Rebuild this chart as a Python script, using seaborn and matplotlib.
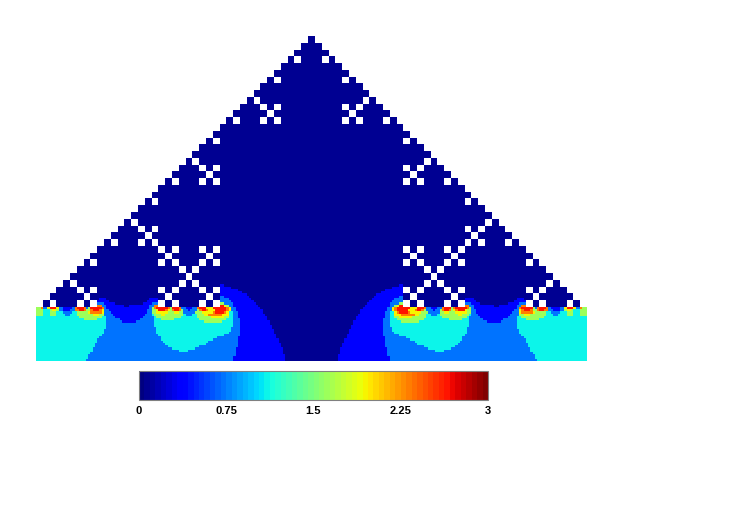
import numpy as np
import matplotlib
matplotlib.use("Agg")
import matplotlib.pyplot as plt
import seaborn as sns

# grid size in coarse cells, each coarse cell is split in 3x3 fine cells
n_cols = 81
n_rows = 48
apex_rows = 40

# value of each band seen in the picture
levels = {"n": 0.05, "b": 0.37, "l": 0.72, "c": 1.1, "g": 1.62, "y": 1.95, "o": 2.3, "r": 2.65}

# white cells of the left half (column, row), right half is the mirror
hole_cols = [38, 35, 32, 29, 26, 23, 20, 17, 14, 11, 8, 5, 2,
             33, 35, 34, 33, 35,
             24, 26, 25, 24, 26,
             15, 17, 16, 15, 17,
             6, 8, 7, 6, 8,
             18, 20, 19, 18, 20,
             24, 26, 25, 24, 26,
             21, 23, 22, 21, 23,
             18, 20, 19, 18, 20,
             24, 26, 25, 24, 26]
hole_rows = [3, 6, 9, 12, 15, 18, 21, 24, 27, 30, 33, 36, 39,
             10, 10, 11, 12, 12,
             19, 19, 20, 21, 21,
             28, 28, 29, 30, 30,
             37, 37, 38, 39, 39,
             31, 31, 32, 33, 33,
             31, 31, 32, 33, 33,
             34, 34, 35, 36, 36,
             37, 37, 38, 39, 39,
             37, 37, 38, 39, 39]

# bands of the left half, fine rows 110 to 143: letter + end column
first_band_row = 110
band_rows = [
    "n81 b83 n122",
    "n81 b86 n122",
    "n81 b89 n122",
    "n81 b91 n122",
    "n81 b93 n122",
    "n81 l83 b94 n122",
    "n28 b31 n50 b54 n81 l85 b95 n122",
    "n27 b32 n49 b54 n81 l86 b96 n122",
    "n27 l30 b35 n47 b51 l54 n81 g83 l87 b97 n122",
    "n27 o29 l31 b39 n41 b50 l52 o54 n81 r83 y84 g85 l87 b98 n122",
    "g2 o3 l5 y6 r9 y10 l12 b16 l17 o18 r21 o22 l23 g24 r29 o30 l31 b50 l51 g52 o53 r58 o59 g60 r63 o64 l66 b69 l71 o72 r75 y78 r84 o85 y86 l88 b99 n122",
    "g3 c6 g7 y9 g10 l12 b15 l17 o19 r21 o22 g24 o25 r28 o29 y30 l32 b49 l51 g53 y54 r57 o58 y59 g60 o61 r63 o64 g65 l67 b68 l71 g72 o73 r75 o76 y79 r84 o85 y86 c86 l88 b100 n122",
    "g3 c6 g9 c12 l16 c18 g23 y24 o29 y30 l33 b49 l51 g53 y58 g61 y63 g65 l70 g73 y78 o79 r83 o84 y85 c87 l89 b100 n122",
    "g3 c6 g9 c13 l15 c18 g25 y28 g30 l34 b48 l51 c52 g55 y57 g65 c66 l69 c71 g74 y76 o82 y85 c87 l89 b101 n122",
    "c19 g29 c31 l35 b47 l52 c53 g64 c71 g77 y83 g85 c87 l89 b102 n122",
    "c21 g27 c31 l37 b46 l52 c55 g61 c72 g84 c87 l90 b102 n122",
    "c31 l38 b44 l52 c74 g82 c87 l90 b103 n122",
    "c31 l52 c87 l90 b103 n122",
    "c31 l52 c87 l90 b104 n122",
    "c31 l53 c86 l90 b104 n122",
    "c30 l53 c86 l90 b105 n122",
    "c30 l53 c85 l90 b105 n122",
    "c29 l54 c83 l90 b106 n122",
    "c28 l55 c80 l89 b106 n122",
    "c27 l55 c78 l89 b107 n122",
    "c27 l56 c76 l89 b107 n122",
    "c26 l57 c75 l89 b108 n122",
    "c26 l58 c72 l89 b108 n122",
    "c25 l60 c70 l88 b109 n122",
    "c25 l63 c67 l88 b109 n122",
    "c24 l88 b109 n122",
    "c23 l88 b110 n122",
    "c23 l87 b110 n122",
    "c22 l87 b110 n122",
]

cbar_ticks = [0, 0.75, 1.5, 2.25, 3]
cbar_labels = ["0", "0.75", "1.5", "2.25", "3"]


def parseBands(row):
    vals = np.zeros(122)
    start = 0
    for run in row.split():
        end = int(run[1:])
        vals[start:end] = levels[run[0]]
        start = end
    return np.concatenate([vals, vals[:-1][::-1]])


def buildField():
    field = np.full((n_rows * 3, n_cols * 3), levels["n"])
    for i, row in enumerate(band_rows):
        field[first_band_row + i] = parseBands(row)
    return field


def buildMask():
    coarse = np.zeros((n_rows, n_cols), dtype=bool)
    for r in range(apex_rows):
        half = n_cols // 2
        coarse[r, :half - r] = True
        coarse[r, half + r + 1:] = True
    for c, r in zip(hole_cols, hole_rows):
        coarse[r, c] = True
        coarse[r, n_cols - 1 - c] = True
    return np.kron(coarse, np.ones((3, 3), dtype=bool))


W, H = 747, 528
fig = plt.figure(figsize=(W / 100, H / 100), dpi=100, facecolor="white")
ax = fig.add_axes([36 / W, 1 - 361 / H, 551 / W, 325 / H])
cax = fig.add_axes([139 / W, 1 - 400 / H, 349 / W, 29 / H])

jet64 = matplotlib.colormaps["jet"].resampled(64)
sns.heatmap(buildField(), mask=buildMask(), cmap=jet64, vmin=0, vmax=3,
            xticklabels=False, yticklabels=False, ax=ax, cbar_ax=cax,
            cbar_kws={"orientation": "horizontal"})

cb = ax.collections[0].colorbar
cb.set_ticks(cbar_ticks)
cb.set_ticklabels(cbar_labels, family="Liberation Sans", fontsize=8, fontweight="bold")
cb.ax.tick_params(length=0, pad=4, bottom=True)
cb.outline.set_visible(True)
cb.outline.set_edgecolor("#808080")
cb.outline.set_linewidth(0.8)

fig.savefig("out.png", dpi=100)
